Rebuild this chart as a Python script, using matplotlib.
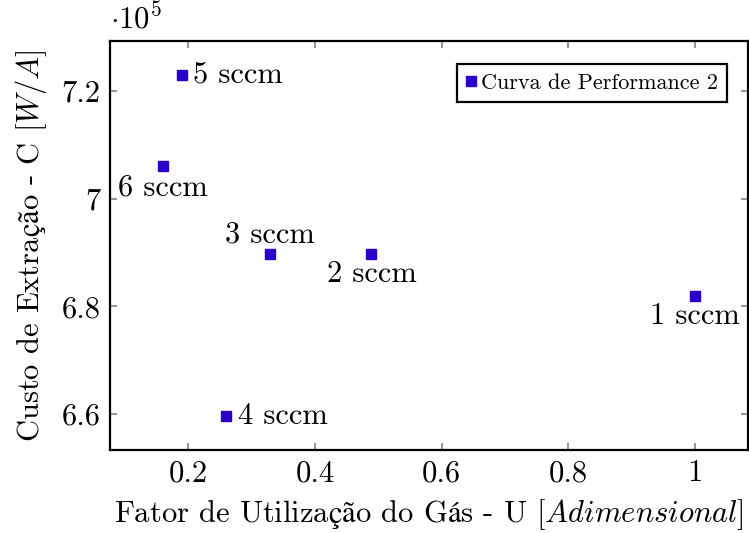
import numpy as np
import matplotlib.pyplot as plt

plt.rcParams['font.family'] = ['cmr10', 'DejaVu Serif']
plt.rcParams['mathtext.fontset'] = 'cm'
plt.rcParams['axes.formatter.use_mathtext'] = True

# data
labels = ['1 sccm', '2 sccm', '3 sccm', '4 sccm', '5 sccm', '6 sccm']
fator_u = [1.0, 0.489, 0.328, 0.260, 0.189, 0.160]
custo_c = [682000, 689800, 689800, 659600, 723000, 706100]
xticks = [0.2, 0.4, 0.6, 0.8, 1.0]
xticklabels = ['0.2', '0.4', '0.6', '0.8', '1']
yticks = [6.6, 6.8, 7.0, 7.2]
yticklabels = ['6.6', '6.8', '7', '7.2']

cor = '#2a00c8'
fs = 22

fig = plt.figure(figsize=(7.49, 5.33), dpi=100)
ax = fig.add_axes([110 / 749, 1 - 450 / 533, 638 / 749, 409 / 533])

y = np.array(custo_c) / 1e5
ax.plot(fator_u, y, 's', color=cor, markersize=7.5, linestyle='none',
        label='Curva de Performance 2')

# label placement like pgfplots anchors (dx, dy in points)
offs = {'1 sccm': (0, -5, 'center', 'top'),
        '2 sccm': (0, -5, 'center', 'top'),
        '3 sccm': (0, 4, 'center', 'bottom'),
        '4 sccm': (8, 0, 'left', 'center'),
        '5 sccm': (8, 0, 'left', 'center'),
        '6 sccm': (0, -6, 'center', 'top')}
for lab, xv, yv in zip(labels, fator_u, y):
    dx, dy, ha, va = offs[lab]
    ax.annotate(lab, (xv, yv), xytext=(dx, dy), textcoords='offset points',
                ha=ha, va=va, fontsize=fs)

ax.set_xlim(0.076, 1.084)
ax.set_ylim(6.533, 7.293)
ax.set_xticks(xticks)
ax.set_xticklabels(xticklabels)
ax.set_yticks(yticks)
ax.set_yticklabels(yticklabels)
ax.tick_params(direction='in', length=5, width=1.2, color='#808080',
               top=True, right=True, labelsize=fs, pad=7)
for s in ax.spines.values():
    s.set_linewidth(1.6)

ax.set_xlabel(r'Fator de $\mathrm{Utilização}$ do $\mathrm{Gás}$ - U [$\mathit{Adimensional}$]',
              fontsize=fs, labelpad=7)
ax.set_ylabel(r'Custo de $\mathrm{Extração}$ - C [$W/A$]', fontsize=fs, labelpad=9)
ax.text(0.0, 1.015, r'$\cdot10^5$', transform=ax.transAxes, fontsize=fs,
        ha='left', va='bottom')

leg = ax.legend(loc='upper right', fontsize=16, fancybox=False, framealpha=1,
                edgecolor='black', handlelength=0.5, handletextpad=0.2,
                markerscale=1.0, borderpad=0.4, bbox_to_anchor=(0.985, 0.97))
leg.get_frame().set_linewidth(1.6)

fig.savefig('out.png', dpi=100)
